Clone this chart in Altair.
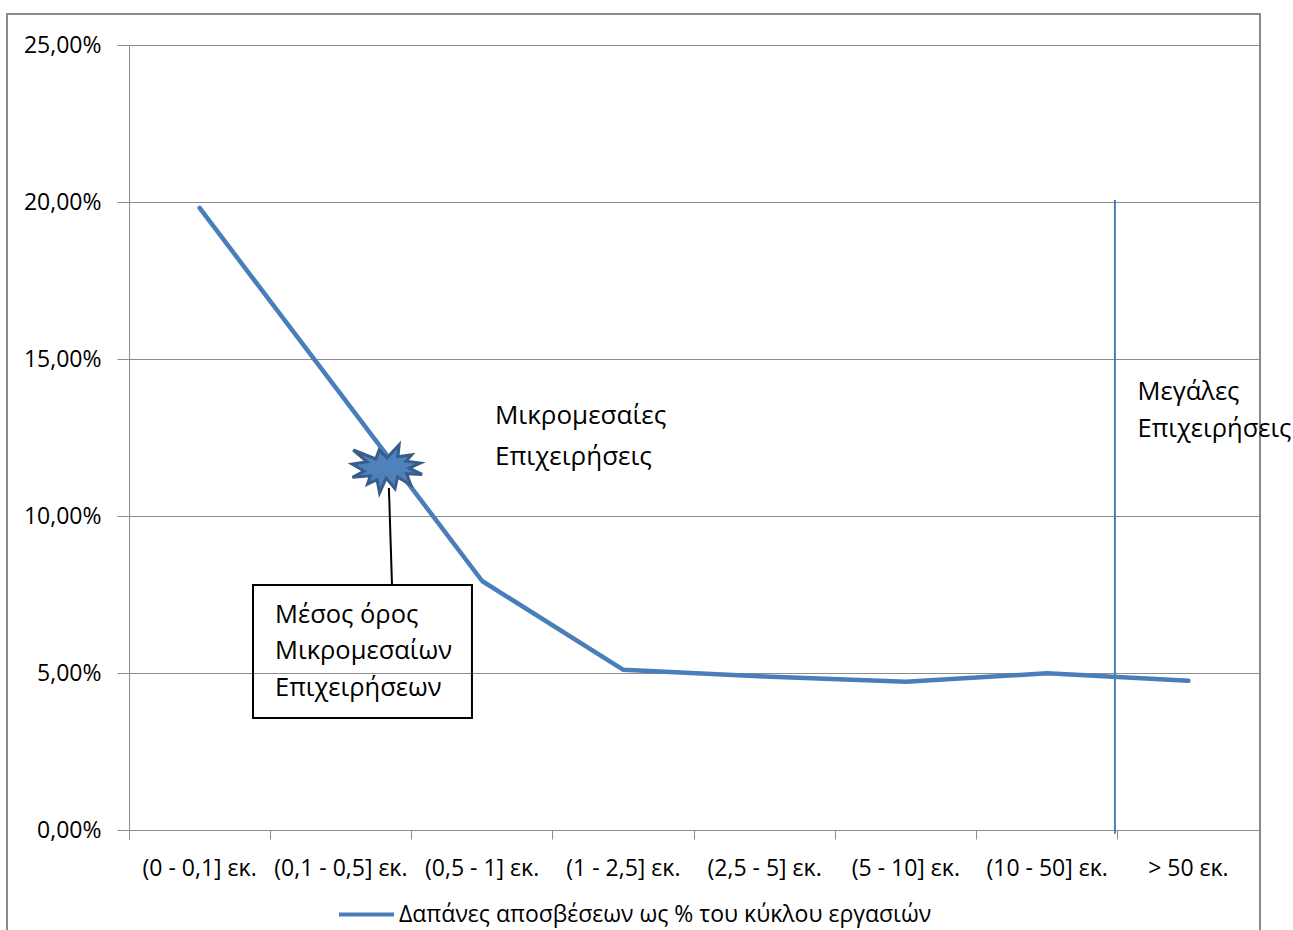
import altair as alt
import pandas as pd

# Size classes (turnover, million euro) and depreciation as % of turnover
categories = [
    "(0 - 0,1] εκ.",
    "(0,1 - 0,5] εκ.",
    "(0,5 - 1] εκ.",
    "(1 - 2,5] εκ.",
    "(2,5 - 5] εκ.",
    "(5 - 10] εκ.",
    "(10 - 50] εκ.",
    "> 50 εκ.",
]
depreciation_pct = [19.81, 13.87, 7.93, 5.10, 4.89, 4.72, 4.99, 4.75]
series_name = "Δαπάνες αποσβέσεων ως % του κύκλου εργασιών"
y_ticks = [0, 5, 10, 15, 20, 25]

# Average of small and medium enterprises (marked with a starburst)
sme_mean_pct = 11.50

W, H = 1130, 785
FONT = "Open Sans"
BLUE = "#4A7EBB"
GRAY = "#8C8C8C"

df = pd.DataFrame({
    "cat": categories,
    "val": depreciation_pct,
    "series": [series_name] * len(categories),
})
one = pd.DataFrame({"k": [0]})

Y_SCALE = alt.Scale(domain=[0, 25], nice=False, zero=True)
Y_AXIS = alt.Axis(
    title=None, values=y_ticks,
    labelExpr="replace(format(datum.value, '.2f'), '.', ',') + '%'",
    tickSize=12, tickColor=GRAY, domainColor=GRAY, tickWidth=1, domainWidth=1,
    grid=True, gridColor=GRAY, gridWidth=1,
    labelFont=FONT, labelFontSize=23, labelColor="black", labelPadding=16,
)
X_ANNOT = alt.Scale(domain=[0, len(categories)], nice=False, zero=False)


def xd(v):
    return alt.XDatum(v, type="quantitative", scale=X_ANNOT, axis=None)


def yd(v):
    return alt.YDatum(v, type="quantitative", scale=Y_SCALE, axis=Y_AXIS)


line = alt.Chart(df).mark_line(strokeWidth=4.5, strokeJoin="round", strokeCap="round").encode(
    x=alt.X(
        "cat:N",
        sort=categories,
        scale=alt.Scale(type="band", paddingInner=0, paddingOuter=0),
        axis=alt.Axis(
            title=None, labelAngle=0, bandPosition=0, tickExtra=True, grid=False,
            tickSize=9, tickColor=GRAY, domainColor=GRAY, tickWidth=1, domainWidth=1,
            labelFont=FONT, labelFontSize=23, labelColor="black", labelPadding=18,
            labelLimit=200,
        ),
    ),
    y=alt.Y("val:Q", scale=Y_SCALE, axis=Y_AXIS),
    color=alt.Color(
        "series:N",
        scale=alt.Scale(range=[BLUE]),
        legend=alt.Legend(
            title=None, orient="none", legendX=208, legendY=840, padding=0,
            symbolType="stroke", symbolSize=3025, symbolStrokeWidth=4,
            labelFont=FONT, labelFontSize=23, labelColor="black", labelOffset=3,
            labelLimit=800,
        ),
    ),
)

# Chart frame
frame = alt.Chart(one).mark_rect(fill="transparent", stroke="#8A8A8A", strokeWidth=2).encode(
    x=alt.value(-122), x2=alt.value(W + 1), y=alt.value(-31), y2=alt.value(H + 200)
)

# Separator between SMEs and large enterprises
divider = alt.Chart(one).mark_rule(color=BLUE, strokeWidth=2).encode(
    x=xd(6.98), y=yd(20.06), y2=alt.Y2Datum(-0.12)
)

# Starburst marking the SME average
burst_pts = [
    (10800, 5800), (14522, 0), (14155, 5325), (18380, 4457), (16702, 7315),
    (21097, 8137), (17607, 10475), (21600, 13290), (16837, 12942), (18145, 18095),
    (14020, 14457), (13247, 19737), (10532, 14935), (8485, 21600), (7715, 15627),
    (4762, 17617), (5667, 13937), (135, 14587), (3722, 11775), (0, 8615),
    (4627, 7617), (370, 2295), (7312, 6320), (8352, 2295),
]
aspect = 48 / 70
burst_path = "M" + " L".join(
    f"{(px - 10800) / 10800:.3f},{(py - 10800) / 10800 * aspect:.3f}" for px, py in burst_pts
) + " Z"

burst = alt.Chart(one).mark_point(
    shape=burst_path, size=4900, filled=True, fill="#4F81BD", stroke="#385D8A",
    strokeWidth=3, opacity=1,
).encode(x=xd(1.827), y=yd(sme_mean_pct))

callout_line = alt.Chart(one).mark_rule(color="black", strokeWidth=2).encode(
    x=xd(1.84), x2=alt.X2Datum(1.862), y=yd(10.89), y2=alt.Y2Datum(7.80)
)

callout_box = alt.Chart(one).mark_rect(fill="transparent", stroke="black", strokeWidth=2).encode(
    x=xd(0.878), x2=alt.X2Datum(2.428), y=yd(7.80), y2=alt.Y2Datum(3.567)
)

callout_text = alt.Chart(one).mark_text(
    align="left", baseline="middle", font=FONT, fontSize=25.5, lineHeight=36.5, color="black"
).encode(
    x=xd(1.034), y=yd(6.86),
    text=alt.value(["Μέσος όρος", "Μικρομεσαίων", "Επιχειρήσεων"]),
)

sme_text = alt.Chart(one).mark_text(
    align="left", baseline="middle", font=FONT, fontSize=26, lineHeight=41, color="black"
).encode(
    x=xd(2.591), y=yd(13.17),
    text=alt.value(["Μικρομεσαίες", "Επιχειρήσεις"]),
)

large_text = alt.Chart(one).mark_text(
    align="left", baseline="middle", font=FONT, fontSize=25.5, lineHeight=37, color="black"
).encode(
    x=xd(7.14), y=yd(13.95),
    text=alt.value(["Μεγάλες", "Επιχειρήσεις"]),
)

chart = alt.layer(
    frame, line, divider, callout_line, callout_box, callout_text, burst, sme_text, large_text
).resolve_scale(
    x="independent"
).properties(
    width=W,
    height=H,
    autosize=alt.AutoSizeParams(type="none"),
    padding={"left": 129, "top": 45, "right": 34, "bottom": 100},
    background="white",
).configure_view(strokeWidth=0)

chart.save("out.html", embed_options={"renderer": "svg", "actions": False})
